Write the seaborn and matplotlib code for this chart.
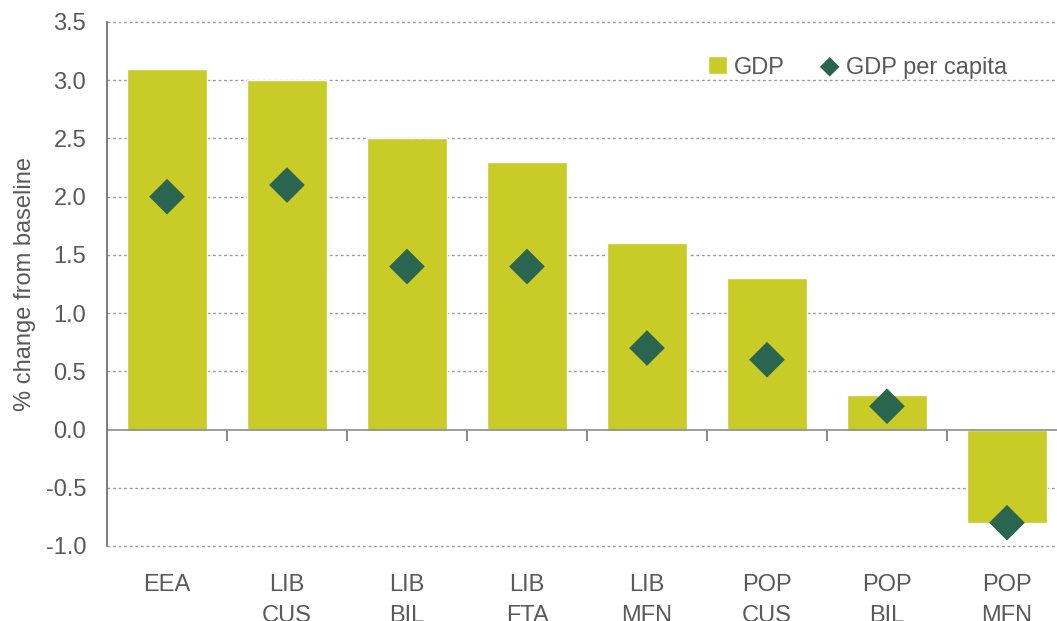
import pandas as pd
import matplotlib.pyplot as plt
import seaborn as sns

categories = ['EEA', 'LIB\nCUS', 'LIB\nBIL', 'LIB\nFTA', 'LIB\nMFN', 'POP\nCUS', 'POP\nBIL', 'POP\nMFN']
gdp = [3.1, 3.0, 2.5, 2.3, 1.6, 1.3, 0.3, -0.8]
gdp_per_capita = [2.0, 2.1, 1.4, 1.4, 0.7, 0.6, 0.2, -0.8]
y_ticks = [-1.0, -0.5, 0.0, 0.5, 1.0, 1.5, 2.0, 2.5, 3.0, 3.5]

df = pd.DataFrame({'scenario': categories, 'gdp': gdp, 'gdp_pc': gdp_per_capita})

sns.set_style('white')
plt.rcParams['font.family'] = ['Liberation Sans', 'DejaVu Sans']
text_col = '#595959'
line_col = '#8c8c8c'

fig = plt.figure(figsize=(10.57, 6.21), dpi=100)
ax = fig.add_axes([107 / 1057, 75 / 621, 960 / 1057, 524 / 621])

sns.barplot(data=df, x='scenario', y='gdp', color='#C9CB27', saturation=1,
            width=0.667, label='GDP', ax=ax)
sns.scatterplot(data=df, x='scenario', y='gdp_pc', marker='D', s=330,
                color='#2A6550', edgecolor='none', label='GDP per capita',
                ax=ax, zorder=3)

ax.set_ylim(-1.0, 3.5)
ax.set_xlim(-0.5, 7.5)
ax.set_yticks(y_ticks)
ax.set_yticklabels([f'{v:.1f}' for v in y_ticks])
for v in y_ticks:
    if v != 0:
        ax.axhline(v, color='#9a9a9a', lw=1, ls=(0, (2, 2)), zorder=0, clip_on=False)
ax.axhline(0, color=line_col, lw=1.2, zorder=2)

for s in ['top', 'right', 'bottom']:
    ax.spines[s].set_visible(False)
ax.spines['left'].set_color('#666666')
ax.spines['left'].set_linewidth(1.2)

ax.tick_params(axis='y', direction='out', length=9, color='#9a9a9a',
               labelsize=17, labelcolor=text_col, pad=6)
ax.tick_params(axis='x', length=0, labelsize=17, labelcolor=text_col, pad=20)
for t in ax.get_xticklabels():
    t.set_linespacing(1.55)
    t.set_verticalalignment('top')

# boundary ticks on the zero line
sec = ax.secondary_xaxis(1.0 / 4.5)
sec.set_xticks([i + 0.5 for i in range(len(categories) - 1)])
sec.set_xticklabels([])
sec.tick_params(direction='out', length=8, color='#777777', width=1.2)
sec.spines['bottom'].set_visible(False)

ax.set_xlabel('')
ax.set_ylabel('% change from baseline', fontsize=17, color=text_col, labelpad=7)

handles, labels = ax.get_legend_handles_labels()
order = [labels.index('GDP'), labels.index('GDP per capita')]
ax.legend([handles[i] for i in order], [labels[i] for i in order],
          loc='upper right', bbox_to_anchor=(0.96, 0.975), ncol=2,
          frameon=False, fontsize=17, handlelength=0.8, handleheight=0.8,
          handletextpad=0.3, columnspacing=1.5, labelcolor=text_col,
          markerscale=0.55)

fig.savefig('out.png', dpi=100)
